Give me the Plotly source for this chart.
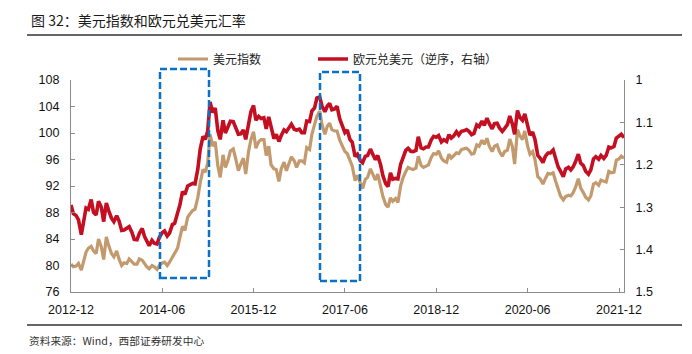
import pandas as pd
import plotly.graph_objects as go

# ---------------- data (semi-monthly readings, 1st & 15th of each month) ----------------
start_date = "2012-12-01"
end_date = "2021-12-31"

dxy_2012 = [80.2, 79.8]
dxy_2013 = [79.9, 80.3, 79.3, 80.5, 82.0, 82.6, 82.9, 82.2, 81.8, 84.0, 82.8, 80.9,
            84.3, 83.0, 81.8, 81.3, 82.2, 81.0, 80.0, 80.4, 80.3, 81.0, 80.5, 80.2]
dxy_2014 = [80.2, 81.0, 80.8, 80.2, 79.8, 79.5, 80.0, 79.8, 79.4, 80.0, 80.4, 80.5,
            80.0, 80.5, 81.3, 81.8, 82.6, 84.2, 85.9, 85.3, 87.3, 87.8, 88.3, 88.5]
dxy_2015 = [90.3, 92.5, 94.5, 94.1, 95.5, 99.8, 98.0, 98.7, 95.0, 93.3, 96.7, 94.8,
            95.9, 97.3, 97.6, 96.2, 94.3, 95.3, 96.2, 93.8, 97.2, 99.0, 100.2, 97.7]
dxy_2016 = [98.7, 99.0, 99.0, 96.6, 98.0, 95.2, 94.6, 94.5, 92.7, 94.6, 95.6, 94.3,
            95.6, 96.4, 95.8, 94.8, 95.8, 95.8, 95.5, 97.8, 97.5, 99.8, 101.3, 102.5]
dxy_2017 = [103.3, 101.2, 99.8, 101.0, 101.5, 100.5, 100.3, 100.3, 98.9, 98.0, 97.2, 96.9,
            95.8, 95.0, 92.8, 93.6, 92.5, 91.6, 93.0, 93.3, 94.6, 93.7, 92.9, 93.8]
dxy_2018 = [92.1, 90.4, 89.2, 88.8, 90.2, 89.7, 90.1, 89.5, 92.0, 93.2, 94.2, 94.8,
            94.6, 94.5, 94.7, 96.5, 95.1, 94.8, 95.0, 95.2, 96.3, 96.9, 96.8, 97.3]
dxy_2019 = [96.2, 95.8, 95.6, 96.8, 96.2, 96.6, 97.0, 96.9, 97.5, 97.6, 97.7, 97.4,
            96.8, 96.9, 98.2, 98.0, 98.9, 98.3, 99.2, 98.0, 97.2, 98.0, 98.2, 97.2]
dxy_2020 = [96.5, 97.2, 97.4, 99.1, 98.0, 95.3, 100.5, 99.6, 99.0, 100.3, 98.0, 96.8,
            97.2, 96.0, 93.4, 93.1, 92.3, 93.1, 93.9, 93.8, 94.0, 92.8, 91.5, 90.5]
dxy_2021 = [89.9, 90.4, 90.6, 90.5, 91.0, 91.8, 93.1, 91.7, 91.0, 90.3, 89.9, 90.5,
            92.3, 92.5, 92.1, 92.9, 92.7, 92.6, 94.2, 94.0, 94.1, 95.9, 96.1, 96.5]
dxy_end = [96.2]

eur_2012 = [1.295, 1.315]
eur_2013 = [1.320, 1.330, 1.365, 1.335, 1.302, 1.305, 1.282, 1.312, 1.318, 1.286, 1.300, 1.334,
            1.290, 1.308, 1.326, 1.334, 1.320, 1.332, 1.355, 1.354, 1.350, 1.346, 1.359, 1.376]
eur_2014 = [1.377, 1.362, 1.350, 1.369, 1.380, 1.391, 1.378, 1.385, 1.387, 1.371, 1.360, 1.356,
            1.368, 1.361, 1.341, 1.338, 1.314, 1.295, 1.263, 1.270, 1.250, 1.247, 1.244, 1.245]
eur_2015 = [1.209, 1.163, 1.133, 1.140, 1.120, 1.052, 1.077, 1.066, 1.120, 1.140, 1.095, 1.125,
            1.110, 1.097, 1.098, 1.111, 1.128, 1.127, 1.118, 1.140, 1.100, 1.075, 1.060, 1.095]
eur_2016 = [1.086, 1.091, 1.089, 1.115, 1.087, 1.111, 1.138, 1.128, 1.145, 1.131, 1.118, 1.122,
            1.110, 1.104, 1.116, 1.118, 1.116, 1.124, 1.124, 1.097, 1.098, 1.073, 1.066, 1.042]
eur_2017 = [1.040, 1.062, 1.075, 1.062, 1.055, 1.070, 1.068, 1.062, 1.092, 1.105, 1.124, 1.118,
            1.140, 1.147, 1.180, 1.175, 1.190, 1.195, 1.180, 1.178, 1.163, 1.175, 1.188, 1.178]
eur_2018 = [1.200, 1.226, 1.245, 1.251, 1.219, 1.234, 1.232, 1.233, 1.199, 1.184, 1.166, 1.161,
            1.168, 1.169, 1.166, 1.134, 1.160, 1.162, 1.158, 1.158, 1.141, 1.133, 1.135, 1.131]
eur_2019 = [1.146, 1.141, 1.145, 1.129, 1.137, 1.132, 1.122, 1.130, 1.121, 1.120, 1.117, 1.121,
            1.129, 1.126, 1.106, 1.110, 1.097, 1.107, 1.090, 1.103, 1.115, 1.103, 1.102, 1.113]
eur_2020 = [1.121, 1.114, 1.105, 1.085, 1.103, 1.128, 1.072, 1.088, 1.095, 1.080, 1.112, 1.130,
            1.123, 1.140, 1.178, 1.184, 1.195, 1.180, 1.172, 1.172, 1.165, 1.185, 1.205, 1.215]
eur_2021 = [1.228, 1.210, 1.206, 1.212, 1.205, 1.193, 1.175, 1.196, 1.202, 1.215, 1.222, 1.212,
            1.186, 1.181, 1.187, 1.178, 1.185, 1.178, 1.158, 1.160, 1.157, 1.137, 1.132, 1.128]
eur_end = [1.136]

dxy = (dxy_2012 + dxy_2013 + dxy_2014 + dxy_2015 + dxy_2016 + dxy_2017 + dxy_2018
       + dxy_2019 + dxy_2020 + dxy_2021 + dxy_end)
eurusd = (eur_2012 + eur_2013 + eur_2014 + eur_2015 + eur_2016 + eur_2017 + eur_2018
          + eur_2019 + eur_2020 + eur_2021 + eur_end)

dates = list(pd.date_range(start_date, periods=len(dxy) - 1, freq="SMS")) + [pd.Timestamp(end_date)]

series_names = ["美元指数", "欧元兑美元（逆序，右轴）"]
left_ticks = [76, 80, 84, 88, 92, 96, 100, 104, 108]
right_ticks = [1.0, 1.1, 1.2, 1.3, 1.4, 1.5]
right_tick_text = ["1", "1.1", "1.2", "1.3", "1.4", "1.5"]

TAN = "#C29A6E"
RED = "#C40F22"
BLUE = "#0A72C6"
AXIS = "#8C8C8C"
CJK = "Noto Sans CJK SC"
NUM = "Liberation Sans, Arial, sans-serif"

# plot area in pixels: x 71..624, y 80..292
W, H = 553.0, 212.0
def px(xp):
    return (xp - 71) / W
def py(yp):
    return (292 - yp) / H

# highlighted periods (dashed boxes): left, right, top, bottom in pixels
box_pixels = [(160, 209, 69, 278), (320, 360, 72, 281)]

fig = go.Figure()
fig.add_trace(go.Scatter(x=dates, y=dxy, name=series_names[0], mode="lines",
                         line=dict(color=TAN, width=3.2), yaxis="y", legend="legend"))
fig.add_trace(go.Scatter(x=dates, y=eurusd, name=series_names[1], mode="lines",
                         line=dict(color=RED, width=3.6), yaxis="y2", legend="legend2"))

shapes = []
for l, r, t, b in box_pixels:
    shapes.append(dict(type="rect", xref="paper", yref="paper",
                       x0=px(l), x1=px(r), y0=py(b), y1=py(t),
                       line=dict(color=BLUE, width=2.5, dash="7px,3px"),
                       fillcolor="rgba(0,0,0,0)", layer="above"))

shapes.append(dict(type="line", xref="paper", yref="paper", x0=px(27), x1=px(682),
                   y0=py(35), y1=py(35), line=dict(color="#333333", width=1.5)))
shapes.append(dict(type="line", xref="paper", yref="paper", x0=px(27), x1=px(682),
                   y0=py(325), y1=py(325), line=dict(color="#333333", width=1.5)))

annotations = [
    dict(text="图 32：美元指数和欧元兑美元汇率", xref="paper", yref="paper",
         x=px(29), y=py(20), xanchor="left", yanchor="middle", showarrow=False,
         font=dict(family=CJK, size=14, color="#1a1a1a")),
    dict(text="资料来源：Wind，西部证券研发中心", xref="paper", yref="paper",
         x=px(27), y=py(340), xanchor="left", yanchor="middle", showarrow=False,
         font=dict(family=CJK, size=10.7, color="#333333")),
]

legend_common = dict(orientation="h", yanchor="middle", xanchor="left",
                     font=dict(family=CJK, size=12, color="#222222"),
                     bgcolor="rgba(0,0,0,0)", itemwidth=30)

fig.update_layout(
    width=692, height=354,
    margin=dict(l=71, r=68, t=80, b=62, pad=0),
    paper_bgcolor="white", plot_bgcolor="white",
    showlegend=True,
    legend=dict(x=px(173), y=py(59), **legend_common),
    legend2=dict(x=px(313), y=py(59), **legend_common),
    xaxis=dict(type="date", range=[start_date, end_date], tick0=start_date, dtick="M18",
               tickformat="%Y-%m", showgrid=False, zeroline=False,
               showline=True, linecolor=AXIS, linewidth=1.2,
               ticks="inside", ticklen=4, tickcolor=AXIS, ticklabelstandoff=6,
               tickfont=dict(family=NUM, size=12.5, color="#111111")),
    yaxis=dict(range=[76, 108], tickvals=left_ticks, showgrid=False, zeroline=False,
               showline=True, linecolor=AXIS, linewidth=1.2,
               ticks="inside", ticklen=4, tickcolor=AXIS, ticklabelstandoff=8,
               tickfont=dict(family=NUM, size=12.5, color="#111111")),
    yaxis2=dict(range=[1.5, 1.0], tickvals=right_ticks, ticktext=right_tick_text,
                overlaying="y", side="right", showgrid=False, zeroline=False,
                showline=True, linecolor=AXIS, linewidth=1.2,
                ticks="inside", ticklen=4, tickcolor=AXIS, ticklabelstandoff=8,
                tickfont=dict(family=NUM, size=12.5, color="#111111")),
    shapes=shapes,
    annotations=annotations,
)

fig.write_html("out.html")
